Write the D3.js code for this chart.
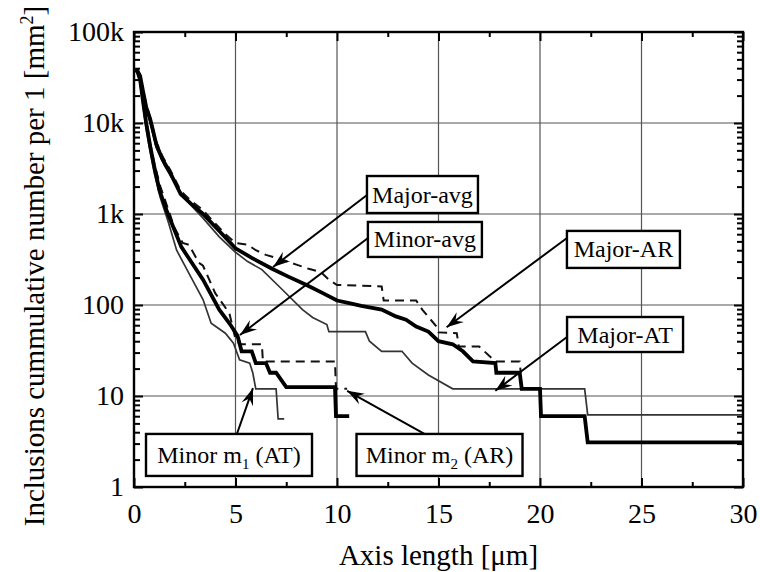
<!DOCTYPE html>
<html>
<head>
<meta charset="utf-8">
<script src="https://cdn.jsdelivr.net/npm/d3@7"></script>
<style>
  body { margin: 0; background: #fff; }
  svg { display: block; font-family: "Liberation Serif", "Times New Roman", serif; }
</style>
</head>
<body>
<div id="root"></div>
<script>
// tick values
const xMajorTicks = [0, 5, 10, 15, 20, 25, 30];
const xMinorTicks = [2.5, 7.5, 12.5, 17.5, 22.5, 27.5];
const yMajorTicks = [1, 10, 100, 1000, 10000, 100000];
const yTickLabels = ["1", "10", "100", "1k", "10k", "100k"];

// Major-avg (thick upper)
const majorAvgX = [0, 0.15, 0.3, 0.45, 0.6, 0.8, 1.1, 1.4, 1.8, 2.3, 2.8, 3.4, 4.2, 5.0, 5.8, 6.8, 7.6, 8.5, 9.3, 10.0, 10.6, 11.2, 12.2, 12.9, 13.4, 13.9, 14.5, 15.0, 15.7, 16.2, 16.7, 17.8, 17.85, 19.0, 19.1, 20.0, 20.05, 22.2, 22.35, 30];
const majorAvgY = [38000, 38000, 33000, 22000, 15000, 11000, 5800, 4000, 2800, 1650, 1300, 1000, 650, 420, 330, 250, 205, 166, 135, 112, 105, 98, 89, 75, 69, 58, 51, 40, 37, 31, 24, 23, 18, 18, 12, 12, 6, 6, 3.1, 3.1];

// Major-AR (dashed upper)
const majorArX = [0, 0.15, 0.3, 0.45, 0.6, 0.8, 1.1, 1.4, 1.8, 2.3, 2.8, 3.4, 3.9, 4.5, 5.0, 5.6, 6.0, 6.5, 7.2, 8.0, 8.6, 9.2, 9.6, 10.0, 12.2, 12.3, 13.9, 14.2, 14.9, 15.0, 15.9, 16.0, 17.0, 17.8, 19.0, 19.05];
const majorArY = [38000, 38000, 34000, 23000, 16000, 11500, 6200, 4300, 3000, 1800, 1400, 1100, 830, 600, 480, 460, 400, 355, 320, 278, 250, 230, 190, 166, 160, 112, 112, 89, 58, 50, 49, 35, 35, 24, 24, 18];

// Major-AT (thin upper)
const majorAtX = [0, 0.15, 0.3, 0.45, 0.6, 0.8, 1.1, 1.5, 2.0, 2.6, 3.4, 4.2, 5.0, 5.6, 6.3, 7.3, 8.3, 8.8, 9.5, 9.6, 11.4, 11.6, 12.2, 13.2, 13.7, 14.5, 15.7, 22.2, 22.35, 30];
const majorAtY = [38000, 37000, 32000, 21000, 14000, 10000, 5300, 3400, 2200, 1400, 900, 560, 380, 300, 245, 148, 89, 73, 61, 51, 51, 40, 31, 31, 23, 17, 12, 12, 6.2, 6.2];

// Minor-avg (thick lower)
const minorAvgX = [0, 0.15, 0.3, 0.45, 0.6, 0.8, 1.0, 1.26, 1.6, 2.33, 3.4, 4.2, 4.7, 5.1, 5.3, 5.8, 6.0, 6.5, 6.7, 7.0, 7.5, 9.9, 9.95, 10.6];
const minorAvgY = [38000, 38000, 30000, 17000, 10000, 5500, 3300, 1800, 1100, 435, 190, 89, 63, 46, 31, 31, 23, 23, 18, 18, 12.5, 12.5, 6, 6];

// Minor m2 (AR) (dashed lower)
const minorArX = [0, 0.15, 0.3, 0.45, 0.6, 0.8, 1.0, 1.3, 1.7, 2.0, 2.4, 2.7, 3.2, 3.4, 4.0, 4.7, 5.0, 5.2, 6.3, 6.35, 9.9, 9.95, 10.5];
const minorArY = [38000, 38000, 31000, 18000, 11000, 6000, 3600, 2000, 1100, 700, 480, 460, 290, 270, 135, 81, 42, 37, 37, 24, 24, 12, 12];

// Minor m1 (AT) (thin lower)
const minorAtX = [0, 0.15, 0.3, 0.45, 0.6, 0.8, 1.0, 1.3, 1.7, 2.1, 2.7, 3.4, 3.8, 4.5, 4.9, 5.2, 5.7, 5.85, 6.0, 7.0, 7.1, 7.4];
const minorAtY = [38000, 37000, 28000, 15000, 8500, 4800, 2800, 1500, 800, 400, 224, 115, 63, 49, 38, 25, 23, 18, 12, 12, 5.6, 5.6];

const seriesList = [
  { name: "Major-AT", xs: majorAtX, ys: majorAtY, width: 1.7, color: "#333", dash: null },
  { name: "Minor m1 (AT)", xs: minorAtX, ys: minorAtY, width: 1.7, color: "#333", dash: null },
  { name: "Major-AR", xs: majorArX, ys: majorArY, width: 2, color: "#111", dash: "9,6" },
  { name: "Minor m2 (AR)", xs: minorArX, ys: minorArY, width: 2, color: "#111", dash: "9,6" },
  { name: "Major-avg", xs: majorAvgX, ys: majorAvgY, width: 3.8, color: "#000", dash: null },
  { name: "Minor-avg", xs: minorAvgX, ys: minorAvgY, width: 3.8, color: "#000", dash: null }
];

// annotation boxes: centre and arrow start/tip, in data units
const annotations = [
  { label: "Major-avg", cx: 14.21, cy: 1637, w: 111, h: 37, fromX: 11.48, fromY: 1618, tipX: 6.85, tipY: 262 },
  { label: "Minor-avg", cx: 14.33, cy: 525, w: 114, h: 35, fromX: 11.53, fromY: 545, tipX: 5.22, tipY: 46.9 },
  { label: "Major-AR", cx: 24.11, cy: 408, w: 113, h: 37, fromX: 21.33, fromY: 545, tipX: 15.4, tipY: 57 },
  { label: "Major-AT", cx: 24.19, cy: 47.4, w: 116, h: 35, fromX: 21.33, fromY: 44.5, tipX: 17.8, tipY: 11.4 },
  { label: "Minor m", sub: "1", rest: " (AT)", cx: 4.68, cy: 2.25, w: 166, h: 42, fromX: 5.07, fromY: 3.82, tipX: 5.86, tipY: 12.2 },
  { label: "Minor m", sub: "2", rest: " (AR)", cx: 15.05, cy: 2.25, w: 166, h: 42, fromX: 14.33, fromY: 3.82, tipX: 10.5, tipY: 11.4 }
];

const width = 760;
const height = 572;
const margins = { top: 32, right: 17, bottom: 85, left: 134 };
const chartWidth = width - margins.left - margins.right;
const chartHeight = height - margins.top - margins.bottom;

const svg = d3
  .select("#root")
  .append("svg")
  .attr("width", width)
  .attr("height", height);

const chart = svg
  .append("g")
  .attr("transform", `translate(${margins.left}, ${margins.top})`);

const xScale = d3.scaleLinear().domain([0, 30]).range([0, chartWidth]);
const yScale = d3.scaleLog().domain([1, 100000]).range([chartHeight, 0]);

// grid
chart
  .selectAll("line.vgrid")
  .data(xMajorTicks.slice(1, -1))
  .join("line")
  .attr("class", "vgrid")
  .attr("x1", (d) => xScale(d))
  .attr("x2", (d) => xScale(d))
  .attr("y1", 0)
  .attr("y2", chartHeight)
  .attr("stroke", "#555")
  .attr("stroke-width", 1.2);
chart
  .selectAll("line.hgrid")
  .data(yMajorTicks.slice(1, -1))
  .join("line")
  .attr("class", "hgrid")
  .attr("x1", 0)
  .attr("x2", chartWidth)
  .attr("y1", (d) => yScale(d))
  .attr("y2", (d) => yScale(d))
  .attr("stroke", "#555")
  .attr("stroke-width", 1.2);

// axes
const yMinorTicks = [];
[1, 10, 100, 1000, 10000].forEach((base) => {
  for (let m = 2; m <= 9; m++) yMinorTicks.push(base * m);
});

const styleAxis = (g) => {
  g.select(".domain").remove();
  g.selectAll("line").attr("stroke", "#000").attr("stroke-width", 2);
  g.selectAll("text")
    .attr("font-family", "Liberation Serif, Times New Roman, serif")
    .attr("font-size", 28)
    .attr("fill", "#000");
};

chart
  .append("g")
  .attr("transform", `translate(0, ${chartHeight})`)
  .call(d3.axisBottom(xScale).tickValues(xMajorTicks).tickSize(-9).tickPadding(16).tickFormat(d3.format("d")))
  .call(styleAxis);
chart
  .append("g")
  .attr("transform", `translate(0, ${chartHeight})`)
  .call(d3.axisBottom(xScale).tickValues(xMinorTicks).tickSize(-5).tickFormat(""))
  .call(styleAxis);
chart
  .append("g")
  .call(d3.axisTop(xScale).tickValues(xMajorTicks).tickSize(-9).tickFormat(""))
  .call(styleAxis);
chart
  .append("g")
  .call(d3.axisTop(xScale).tickValues(xMinorTicks).tickSize(-5).tickFormat(""))
  .call(styleAxis);

chart
  .append("g")
  .call(
    d3.axisLeft(yScale)
      .tickValues(yMajorTicks)
      .tickSize(-9)
      .tickPadding(10)
      .tickFormat((d, i) => yTickLabels[i])
  )
  .call(styleAxis);
chart
  .append("g")
  .call(d3.axisLeft(yScale).tickValues(yMinorTicks).tickSize(-6).tickFormat(""))
  .call(styleAxis);
chart
  .append("g")
  .attr("transform", `translate(${chartWidth}, 0)`)
  .call(d3.axisRight(yScale).tickValues(yMajorTicks).tickSize(-9).tickFormat(""))
  .call(styleAxis);
chart
  .append("g")
  .attr("transform", `translate(${chartWidth}, 0)`)
  .call(d3.axisRight(yScale).tickValues(yMinorTicks).tickSize(-6).tickFormat(""))
  .call(styleAxis);

// series
const line = d3
  .line()
  .x((d) => xScale(d[0]))
  .y((d) => yScale(d[1]));

chart
  .selectAll("path.series")
  .data(seriesList)
  .join("path")
  .attr("class", "series")
  .attr("d", (s) => line(s.xs.map((x, i) => [x, s.ys[i]])))
  .attr("fill", "none")
  .attr("stroke", (s) => s.color)
  .attr("stroke-width", (s) => s.width)
  .attr("stroke-dasharray", (s) => s.dash)
  .attr("stroke-linejoin", "miter");

// frame
chart
  .append("rect")
  .attr("width", chartWidth)
  .attr("height", chartHeight)
  .attr("fill", "none")
  .attr("stroke", "#000")
  .attr("stroke-width", 2.4);

// arrows + boxes
svg
  .append("defs")
  .append("marker")
  .attr("id", "arrowhead")
  .attr("markerUnits", "userSpaceOnUse")
  .attr("viewBox", "-18 -7 20 14")
  .attr("markerWidth", 20)
  .attr("markerHeight", 14)
  .attr("refX", 0)
  .attr("refY", 0)
  .attr("orient", "auto")
  .append("path")
  .attr("d", "M0,0 L-17,-6 L-11,0 L-17,6 Z")
  .attr("fill", "#000");

const notes = chart
  .selectAll("g.note")
  .data(annotations)
  .join("g")
  .attr("class", "note");

notes
  .append("line")
  .attr("x1", (a) => xScale(a.fromX))
  .attr("y1", (a) => yScale(a.fromY))
  .attr("x2", (a) => xScale(a.tipX))
  .attr("y2", (a) => yScale(a.tipY))
  .attr("stroke", "#000")
  .attr("stroke-width", 2)
  .attr("marker-end", "url(#arrowhead)");

notes
  .append("rect")
  .attr("x", (a) => xScale(a.cx) - a.w / 2)
  .attr("y", (a) => yScale(a.cy) - a.h / 2)
  .attr("width", (a) => a.w)
  .attr("height", (a) => a.h)
  .attr("fill", "#fff")
  .attr("stroke", "#000")
  .attr("stroke-width", 2.4);

const noteText = notes
  .append("text")
  .attr("x", (a) => xScale(a.cx))
  .attr("y", (a) => yScale(a.cy) + 8)
  .attr("text-anchor", "middle")
  .attr("font-size", 24)
  .attr("fill", "#000");
noteText.append("tspan").text((a) => a.label);
noteText
  .filter((a) => a.sub)
  .append("tspan")
  .attr("font-size", 15)
  .attr("dy", 6)
  .text((a) => a.sub);
noteText
  .filter((a) => a.sub)
  .append("tspan")
  .attr("dy", -6)
  .text((a) => a.rest);

// axis titles
svg
  .append("text")
  .attr("x", margins.left + chartWidth / 2)
  .attr("y", 565)
  .attr("text-anchor", "middle")
  .attr("font-size", 29)
  .text("Axis length [μm]");

const yTitle = svg
  .append("text")
  .attr("transform", "translate(44, 266) rotate(-90)")
  .attr("text-anchor", "middle")
  .attr("font-size", 29);
yTitle.append("tspan").text("Inclusions cummulative number per 1 [mm");
yTitle.append("tspan").attr("font-size", 18).attr("dy", -11).text("2");
yTitle.append("tspan").attr("dy", 11).text("]");
</script>
</body>
</html>
